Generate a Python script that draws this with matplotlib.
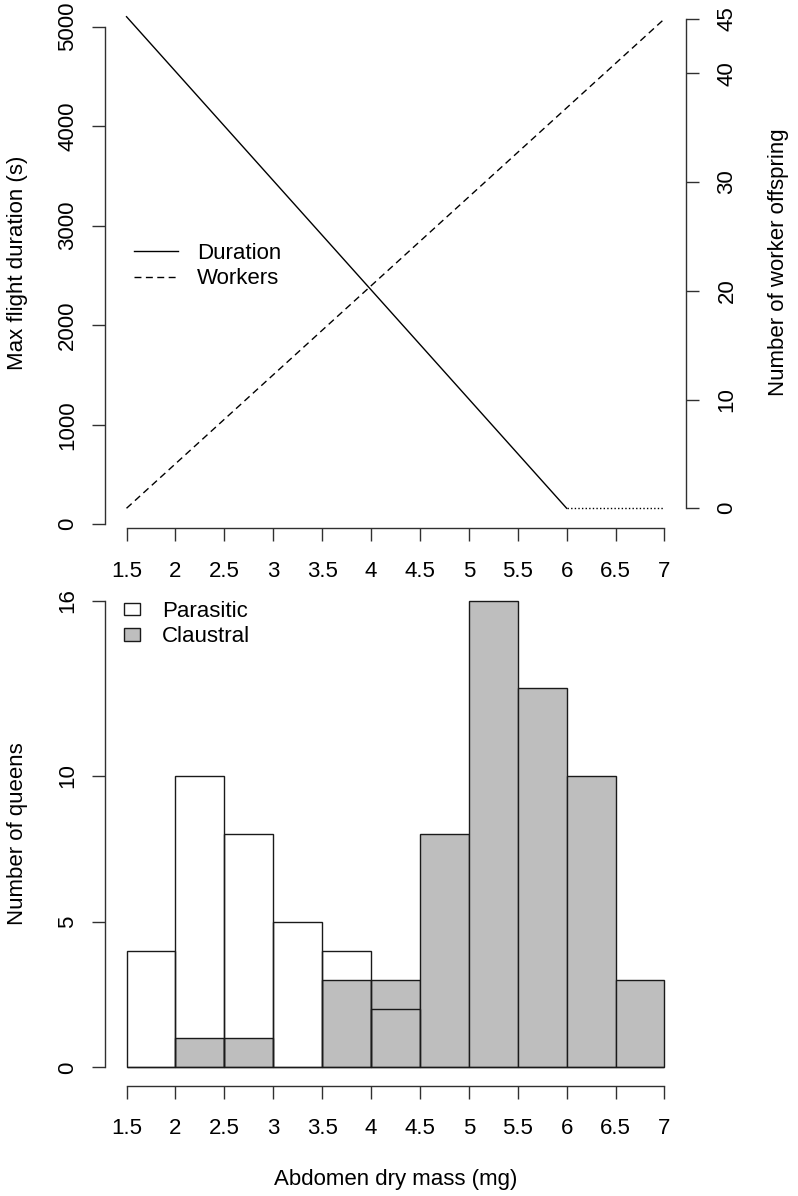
import numpy as np
import matplotlib
matplotlib.use('Agg')
import matplotlib.pyplot as plt
from matplotlib.lines import Line2D
from matplotlib.patches import Patch
from matplotlib.transforms import blended_transform_factory

plt.rcParams['font.family'] = ['Liberation Sans', 'DejaVu Sans']
plt.rcParams['font.size'] = 16

# top panel: model lines
mass_duration = [1.5, 6.0]
duration = [5100, 160]
mass_flat = [6.0, 7.0]
duration_flat = [160, 160]
mass_workers = [1.5, 7.0]
workers = [0, 45]

# bottom panel: histogram of abdomen dry mass
bin_edges = [1.5, 2.0, 2.5, 3.0, 3.5, 4.0, 4.5, 5.0, 5.5, 6.0, 6.5, 7.0]
parasitic = [4, 10, 8, 5, 4, 2, 0, 0, 0, 0, 0]
claustral = [0, 1, 1, 0, 3, 3, 8, 16, 13, 10, 3]

x_ticks = [1.5, 2, 2.5, 3, 3.5, 4, 4.5, 5, 5.5, 6, 6.5, 7]
x_labels = ['1.5', '2', '2.5', '3', '3.5', '4', '4.5', '5', '5.5', '6', '6.5', '7']
dur_ticks = [0, 1000, 2000, 3000, 4000, 5000]
worker_ticks = [0, 10, 20, 30, 40, 45]
queen_ticks = [0, 5, 10, 16]

W, H = 798, 1196
AXC = '#303030'
LW = 1.0


def rect(left, top, right, bottom):
    return [left / W, 1 - bottom / H, (right - left) / W, (bottom - top) / H]


def style_axis(ax, xbounds, ybounds, side='left'):
    for s in ['top', 'right', 'left', 'bottom']:
        ax.spines[s].set_visible(False)
    ax.spines[side].set_visible(True)
    ax.spines[side].set_bounds(*ybounds)
    ax.spines[side].set_color(AXC)
    ax.spines[side].set_linewidth(LW)
    if xbounds is not None:
        ax.spines['bottom'].set_visible(True)
        ax.spines['bottom'].set_bounds(*xbounds)
        ax.spines['bottom'].set_color(AXC)
        ax.spines['bottom'].set_linewidth(LW)
    ax.tick_params(length=9.4, width=LW, color=AXC)


def rotate_yticks(ax):
    for lab in ax.get_yticklabels():
        lab.set_rotation(90)
        lab.set_va('center')
        lab.set_ha('right')


def place_ylabel(ax, x):
    ax.yaxis.set_label_coords(x / W, 0.5,
                              transform=blended_transform_factory(fig.transFigure, ax.transAxes))


fig = plt.figure(figsize=(W / 100, H / 100), dpi=100)

# ---- top panel ----
ax1 = fig.add_axes(rect(105, -3, 686, 528))
ax1.patch.set_visible(False)
ax1.set_xlim(1.28, 7.22)
ax1.set_ylim(-38, 5298)
ax1.plot(mass_duration, duration, color='black', lw=LW)
ax1.plot(mass_flat, duration_flat, color='black', lw=LW, ls=(0, (1, 1.6)))
style_axis(ax1, (1.5, 7), (0, 5000))
ax1.set_xticks(x_ticks)
ax1.set_xticklabels(x_labels)
ax1.set_yticks(dur_ticks)
ax1.set_yticklabels([str(t) for t in dur_ticks])
ax1.tick_params(axis='x', pad=14.5)
ax1.tick_params(axis='y', pad=10)
rotate_yticks(ax1)
ax1.set_ylabel('Max flight duration (s)')
place_ylabel(ax1, 28)

ax2 = ax1.twinx()
ax2.set_ylim((-38 - 160) / 109.3, (5298 - 160) / 109.3)
ax2.plot(mass_workers, workers, color='black', lw=LW, dashes=(5, 3.2))
style_axis(ax2, None, (0, 45), side='right')
ax2.set_yticks(worker_ticks)
ax2.set_yticklabels([])
# right-hand tick labels, written parallel to the axis as in R
lab_tr = blended_transform_factory(fig.transFigure, ax2.transData)
for t in worker_ticks:
    ax2.text(727 / W, t, str(t), transform=lab_tr, rotation=90,
             ha='center', va='center', fontsize=16)
ax2.set_ylabel('Number of worker offspring')
place_ylabel(ax2, 768)

handles = [Line2D([], [], color='black', lw=LW),
           Line2D([], [], color='black', lw=LW, dashes=(5, 3.2))]
ax1.legend(handles, ['Duration', 'Workers'], loc='upper left',
           bbox_to_anchor=(134 / W, 1 - 243 / H), bbox_transform=fig.transFigure,
           frameon=False, handlelength=2.0, handletextpad=0.85,
           labelspacing=0.2, borderpad=0, borderaxespad=0)

# ---- bottom panel ----
ax3 = fig.add_axes(rect(105, 582, 686, 1086))
ax3.set_xlim(1.28, 7.22)
ax3.set_ylim(-0.64, 16.64)
lefts = bin_edges[:-1]
widths = np.diff(bin_edges)
ax3.bar(lefts, claustral, width=widths, align='edge', color='#bebebe',
        edgecolor='#1a1a1a', linewidth=LW, zorder=2)
ax3.bar(lefts, parasitic, width=widths, align='edge', color='none',
        edgecolor='#1a1a1a', linewidth=LW, zorder=3)
style_axis(ax3, (1.5, 7), (0, 16))
ax3.set_xticks(x_ticks)
ax3.set_xticklabels(x_labels)
ax3.set_yticks(queen_ticks)
ax3.set_yticklabels([str(t) for t in queen_ticks])
ax3.tick_params(axis='x', pad=14)
ax3.tick_params(axis='y', pad=10)
rotate_yticks(ax3)
ax3.set_xlabel('Abdomen dry mass (mg)', labelpad=21)
ax3.set_ylabel('Number of queens')
place_ylabel(ax3, 28)

h2 = [Patch(facecolor='white', edgecolor='#1a1a1a', lw=LW),
      Patch(facecolor='#bebebe', edgecolor='#1a1a1a', lw=LW)]
ax3.legend(h2, ['Parasitic', 'Claustral'], loc='upper left',
           bbox_to_anchor=(124 / W, 1 - 601 / H), bbox_transform=fig.transFigure,
           frameon=False, handlelength=0.7, handleheight=0.5, handletextpad=1.0,
           labelspacing=0.2, borderpad=0, borderaxespad=0)

fig.savefig('out.png', dpi=100)
